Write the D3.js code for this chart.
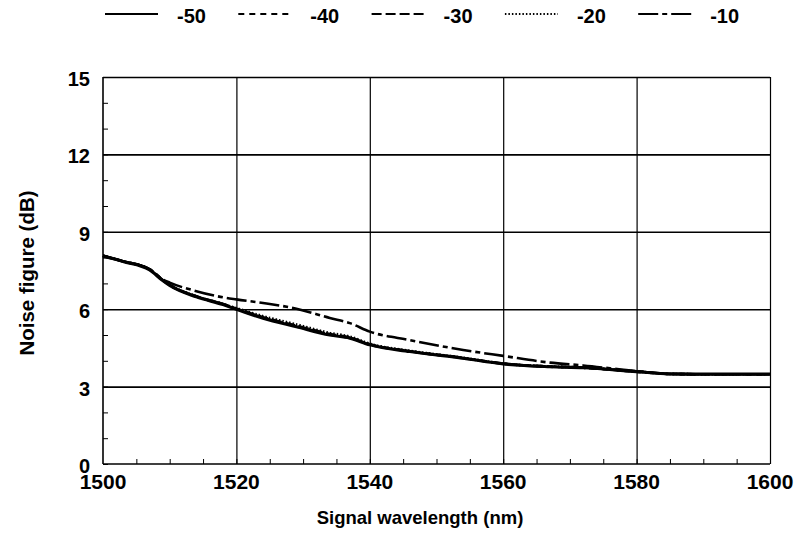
<!DOCTYPE html>
<html>
<head>
<meta charset="utf-8">
<script src="https://cdn.jsdelivr.net/npm/d3@7"></script>
<style>
body{margin:0;background:#fff}
text{font-family:"Liberation Sans",Arial,sans-serif;font-weight:bold;fill:#000}
</style>
</head>
<body>
<div id="chart"></div>
<script>
var w = 795
var h = 560
var margin = {top:77, right:25, bottom:96, left:103}

// data
var wavelength = [1500,1503,1507,1509,1510,1514,1518,1520,1524,1529,1534,1537,1540,1546,1554,1560,1567,1572,1580,1585,1590,1600]
var nf50 = [8.06,7.85,7.52,7.10,6.92,6.48,6.18,6.00,5.65,5.32,5.00,4.88,4.62,4.36,4.10,3.88,3.77,3.73,3.58,3.49,3.48,3.48]
var nf40 = [8.08,7.86,7.53,7.11,6.93,6.49,6.19,6.01,5.67,5.34,5.02,4.89,4.63,4.37,4.10,3.89,3.77,3.73,3.58,3.49,3.48,3.48]
var nf30 = [8.07,7.86,7.54,7.12,6.94,6.50,6.20,6.02,5.69,5.36,5.04,4.90,4.64,4.37,4.11,3.89,3.78,3.73,3.58,3.49,3.48,3.48]
var nf20 = [8.07,7.86,7.54,7.12,6.94,6.50,6.20,6.04,5.73,5.41,5.08,4.94,4.66,4.39,4.12,3.89,3.78,3.74,3.59,3.49,3.48,3.48]
var nf10 = [8.06,7.85,7.55,7.15,7.03,6.70,6.46,6.38,6.24,6.02,5.66,5.46,5.13,4.80,4.42,4.19,3.93,3.82,3.60,3.49,3.48,3.48]

var labels = ["-50","-40","-30","-20","-10"]
var dashes = ["none","6,5","10,4","1.5,2","20,4,5,4"]
var series = [nf50,nf40,nf30,nf20,nf10]

var xTicks = [1500,1520,1540,1560,1580,1600]
var yTicks = [0,3,6,9,12,15]

var svg = d3.select("#chart").append("svg").attr("width",w).attr("height",h)

var x = d3.scaleLinear().domain([1500,1600]).range([margin.left, w-margin.right])
var y = d3.scaleLinear().domain([0,15]).range([h-margin.bottom, margin.top])

// horizontal grid
svg.append("g")
    .attr("transform","translate("+margin.left+",0)")
    .call(d3.axisLeft(y).tickValues(yTicks.slice(1)).tickSize(-(w-margin.left-margin.right)).tickFormat(""))
    .call(function(g){g.select(".domain").remove()})
    .selectAll("line").attr("stroke","#000").attr("stroke-width",1.6)

// vertical grid
svg.append("g")
    .attr("transform","translate(0,"+(h-margin.bottom)+")")
    .call(d3.axisBottom(x).tickValues(xTicks.slice(1)).tickSize(-(h-margin.top-margin.bottom)).tickFormat(""))
    .call(function(g){g.select(".domain").remove()})
    .selectAll("line").attr("stroke","#000").attr("stroke-width",1.2)

// minor ticks
svg.append("g")
    .attr("transform","translate("+margin.left+",0)")
    .call(d3.axisLeft(y).tickValues(d3.range(0,15,1)).tickSize(-5).tickFormat(""))
    .call(function(g){g.select(".domain").remove()})
    .selectAll("line").attr("stroke","#000").attr("stroke-width",1)

svg.append("g")
    .attr("transform","translate(0,"+(h-margin.bottom)+")")
    .call(d3.axisBottom(x).tickValues(d3.range(1505,1600,5)).tickSize(-5).tickFormat(""))
    .call(function(g){g.select(".domain").remove()})
    .selectAll("line").attr("stroke","#000").attr("stroke-width",1)

// axis lines
svg.append("line")
    .attr("x1",x(1500)).attr("x2",x(1500)).attr("y1",y(0)).attr("y2",y(15))
    .attr("stroke","#000").attr("stroke-width",1.6)
svg.append("line")
    .attr("x1",x(1500)).attr("x2",x(1600)).attr("y1",y(0)).attr("y2",y(0))
    .attr("stroke","#000").attr("stroke-width",1.6)

// tick labels
svg.selectAll(".ylab")
    .data(yTicks)
    .enter()
    .append("text")
    .attr("x",margin.left-13)
    .attr("y",function(d){return y(d)+9})
    .attr("text-anchor","end")
    .attr("font-size",20)
    .text(function(d){return d})

svg.selectAll(".xlab")
    .data(xTicks)
    .enter()
    .append("text")
    .attr("x",function(d){return x(d)})
    .attr("y",y(0)+25)
    .attr("text-anchor","middle")
    .attr("font-size",21)
    .text(function(d){return d})

// axis titles
svg.append("text")
    .attr("x",420).attr("y",524)
    .attr("text-anchor","middle")
    .attr("font-size",18.5)
    .text("Signal wavelength (nm)")

svg.append("text")
    .attr("transform","translate(34,273) rotate(-90)")
    .attr("text-anchor","middle")
    .attr("font-size",20.5)
    .text("Noise figure (dB)")

// curves
var line = d3.line()
    .x(function(d){return x(d[0])})
    .y(function(d){return y(d[1])})
    .curve(d3.curveMonotoneX)

series.forEach(function(s,i){
    svg.append("path")
        .datum(wavelength.map(function(wl,j){return [wl,s[j]]}))
        .attr("d",line)
        .attr("fill","none")
        .attr("stroke","#000")
        .attr("stroke-width",i==0?3.2:2.6)
        .attr("stroke-dasharray",dashes[i])
})

// legend
var legend = svg.selectAll(".legend")
    .data(labels)
    .enter()
    .append("g")
    .attr("transform",function(d,i){return "translate("+(105+i*133.3)+",14)"})

legend.append("line")
    .attr("x1",0).attr("x2",53).attr("y1",0).attr("y2",0)
    .attr("stroke","#000").attr("stroke-width",2.2)
    .attr("stroke-dasharray",function(d,i){return dashes[i]})

legend.append("text")
    .attr("x",72).attr("y",9)
    .attr("font-size",20)
    .text(function(d){return d})
</script>
</body>
</html>
